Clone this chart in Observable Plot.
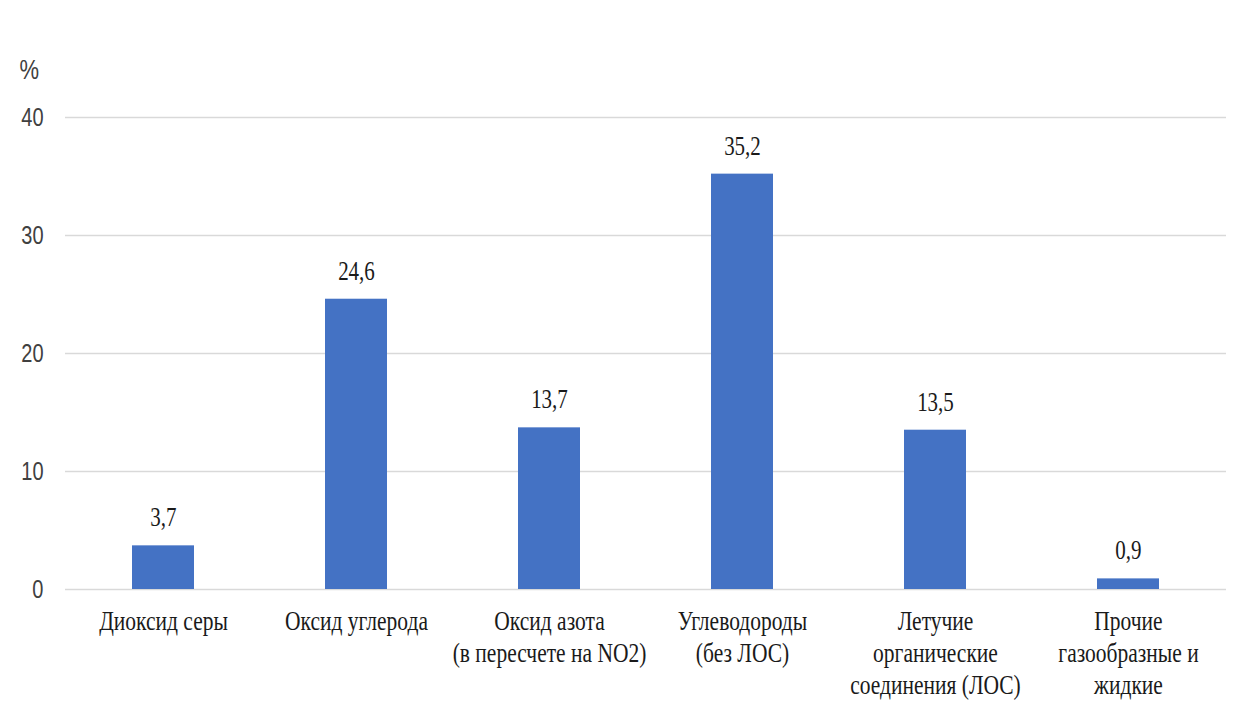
<!DOCTYPE html>
<html>
<head>
<meta charset="utf-8">
<script src="https://cdn.jsdelivr.net/npm/d3@7"></script>
<script src="https://cdn.jsdelivr.net/npm/@observablehq/plot@0.6"></script>
<style>
  html, body { margin: 0; padding: 0; background: #fff; }
  #chart { width: 1243px; height: 710px; }
</style>
</head>
<body>
<div id="chart"></div>
<script>
// Структура выбросов загрязняющих веществ, %
const categories = [
  "Диоксид серы",
  "Оксид углерода",
  "Оксид азота\n(в пересчете на NO2)",
  "Углеводороды\n(без ЛОС)",
  "Летучие\nорганические\nсоединения (ЛОС)",
  "Прочие\nгазообразные и\nжидкие"
];
const values = [3.7, 24.6, 13.7, 35.2, 13.5, 0.9];
const valueLabels = ["3,7", "24,6", "13,7", "35,2", "13,5", "0,9"];
const yTicks = [0, 10, 20, 30, 40];

const data = categories.map((c, i) => ({category: c, value: values[i], label: valueLabels[i]}));

const serif = "'Liberation Serif', 'Times New Roman', serif";
const sans = "'Liberation Sans', Arial, sans-serif";
const textStretch = 1.25; // tall, narrow lettering

const chart = Plot.plot({
  width: 1243,
  height: 710,
  marginLeft: 65,
  marginRight: 17,
  marginTop: 117,
  marginBottom: 121,
  style: {background: "#fff", overflow: "visible"},
  x: {domain: categories, paddingInner: 0.68, paddingOuter: 0.34, label: null},
  y: {domain: [0, 40], ticks: yTicks, label: null},
  marks: [
    Plot.gridY(yTicks, {stroke: "#d9d9d9", strokeOpacity: 1, strokeWidth: 1.3}),
    Plot.axisY(yTicks, {
      tickSize: 0, tickPadding: 22, fontSize: 20, fontFamily: sans, fill: "#404040",
      tickFormat: d => String(d)
    }),
    Plot.axisX({
      tickSize: 0, tickPadding: 18, fontSize: 21.5, fontFamily: serif, fill: "#1a1a1a",
      lineHeight: 1.19, lineWidth: 100
    }),
    Plot.barY(data, {x: "category", y: "value", fill: "#4472c4"}),
    Plot.text(data, {
      x: "category", y: "value", text: "label", dy: -28,
      fontSize: 21, fontFamily: serif, fill: "#1a1a1a"
    }),
    Plot.text(["%"], {
      frameAnchor: "top-left", dx: -46, dy: -58,
      fontSize: 22, fontFamily: sans, fill: "#404040"
    })
  ]
});

// stretch lettering vertically about each label's own anchor
chart.querySelectorAll("text").forEach(t => {
  const tr = t.getAttribute("transform");
  if (tr) t.setAttribute("transform", tr + ` scale(1,${textStretch})`);
});

document.getElementById("chart").appendChild(chart);
</script>
</body>
</html>
